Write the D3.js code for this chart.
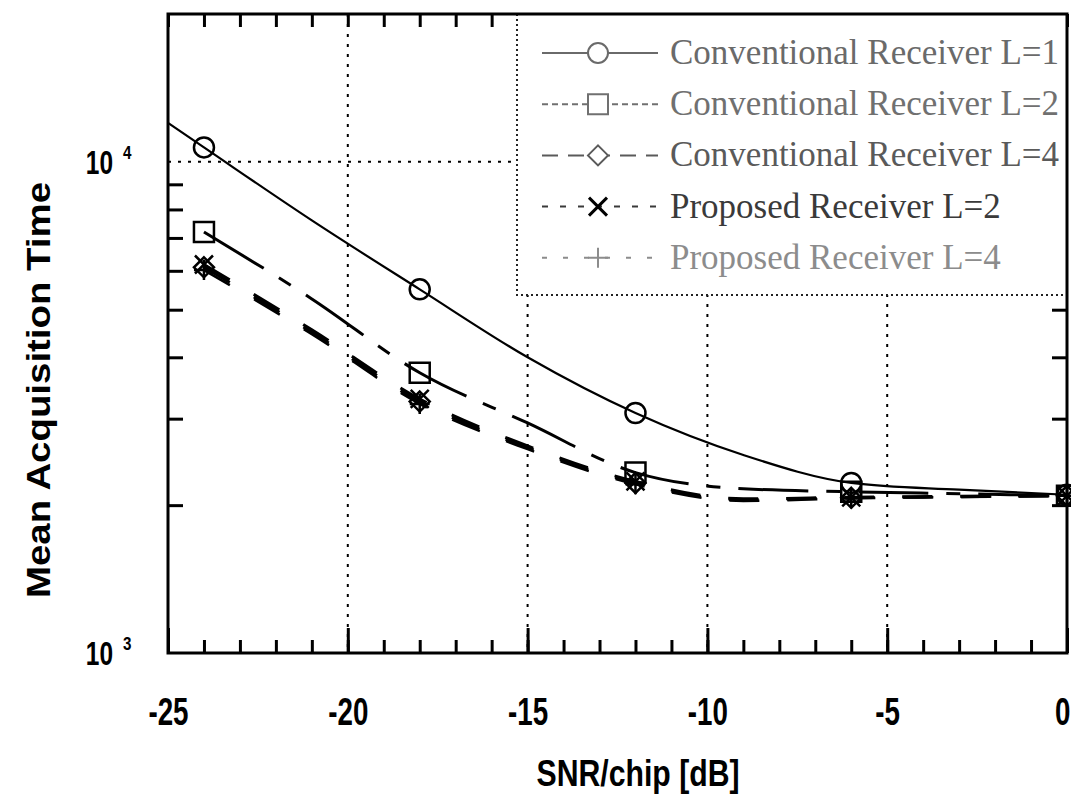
<!DOCTYPE html>
<html>
<head>
<meta charset="utf-8">
<script src="https://cdn.jsdelivr.net/npm/d3@7"></script>
<style>
  body { margin: 0; background: #fff; }
  svg { display: block; }
</style>
</head>
<body>
<div id="chart"></div>
<script>
// === DATA ===
const snr = [-25, -24, -21, -18, -15, -12, -9, -6, -3, 0];
const markerSnr = [-24, -18, -12, -6, 0];

const convL1 = [12000, 10700, 7600, 5500, 4000, 3080, 2530, 2220, 2150, 2100];
const convL2 = [null, 7200, 5260, 3720, 2940, 2330, 2160, 2130, 2110, 2090];
const convL4 = [null, 6100, 4500, 3250, 2620, 2220, 2050, 2070, 2080, 2090];
const propL2 = [null, 6180, 4550, 3290, 2640, 2235, 2060, 2075, 2085, 2090];
const propL4 = [null, 6020, 4460, 3215, 2600, 2205, 2040, 2065, 2078, 2090];

const seriesNames = [
  "Conventional Receiver L=1",
  "Conventional Receiver L=2",
  "Conventional Receiver L=4",
  "Proposed Receiver L=2",
  "Proposed Receiver L=4"
];

const xTicks = [-25, -20, -15, -10, -5, 0];
const xGrid = [-20, -15, -10, -5];
const yTicks = [1000, 10000];
const yTickExp = ["3", "4"];
const yMinor = [2000, 3000, 4000, 5000, 6000, 7000, 8000, 9000];

// === LAYOUT ===
const W = 1071, H = 797;
const margin = { top: 14, right: 4, bottom: 144, left: 168 };
const plotR = W - margin.right;
const plotB = H - margin.bottom;

const x = d3.scaleLinear().domain([-25, 0]).range([margin.left, plotR]);
const y = d3.scaleLog().domain([1000, 20000]).range([plotB, margin.top]);

const svg = d3.select("#chart").append("svg")
  .attr("width", W).attr("height", H)
  .style("background", "#fff");

const boldFont = "'Liberation Sans', Arial, sans-serif";
const serifFont = "'Liberation Serif', 'Times New Roman', serif";

// grid (dotted)
const grid = svg.append("g").attr("stroke", "#000").attr("stroke-width", 2)
  .attr("stroke-dasharray", "3,7");
grid.selectAll("line.vg").data(xGrid).join("line")
  .attr("x1", d => x(d)).attr("x2", d => x(d))
  .attr("y1", margin.top).attr("y2", plotB);
grid.selectAll("line.hg").data([10000]).join("line")
  .attr("x1", margin.left).attr("x2", plotR)
  .attr("y1", d => y(d)).attr("y2", d => y(d));

// === AXES ===
function styleTicks(g, w) {
  g.select(".domain").remove();
  g.selectAll(".tick line").attr("stroke", "#000").attr("stroke-width", w);
}

// minor ticks every 1 dB, bottom & top
svg.append("g").attr("transform", `translate(0,${plotB})`)
  .call(d3.axisBottom(x).tickValues(d3.range(-25, 1)).tickSize(-13).tickFormat(""))
  .call(g => styleTicks(g, 3));
svg.append("g").attr("transform", `translate(0,${margin.top})`)
  .call(d3.axisTop(x).tickValues(d3.range(-25, 1)).tickSize(-13).tickFormat(""))
  .call(g => styleTicks(g, 3));

// major ticks with labels
svg.append("g").attr("transform", `translate(0,${plotB})`)
  .call(d3.axisBottom(x).tickValues(xTicks).tickSize(-25).tickPadding(45)
    .tickFormat(d => String(d)))
  .call(g => styleTicks(g, 3))
  .call(g => g.selectAll(".tick text")
    .attr("fill", "#000")
    .attr("font-family", boldFont)
    .attr("font-weight", "bold")
    .attr("font-size", 38)
    .attr("transform", "scale(0.73,1)")
    // last label sits against the right edge, as in the original
    .attr("text-anchor", d => d === 0 ? "end" : "middle")
    .attr("x", d => d === 0 ? 4 : 0));

// y minor ticks left & right
svg.append("g").attr("transform", `translate(${margin.left},0)`)
  .call(d3.axisLeft(y).tickValues(yMinor).tickSize(-15).tickFormat(""))
  .call(g => styleTicks(g, 3));
svg.append("g").attr("transform", `translate(${plotR},0)`)
  .call(d3.axisRight(y).tickValues(yMinor).tickSize(-15).tickFormat(""))
  .call(g => styleTicks(g, 3));

// y labels 10^3, 10^4
const yLab = svg.append("g").attr("fill", "#000")
  .attr("font-family", boldFont).attr("font-weight", "bold");
yTicks.forEach((t, i) => {
  const yy = y(t);
  yLab.append("text")
    .attr("transform", `translate(113,${yy + 12}) scale(0.72,1)`)
    .attr("text-anchor", "end")
    .attr("font-size", 34)
    .text("10");
  yLab.append("text")
    .attr("transform", `translate(123,${yy - 3}) scale(0.8,1)`)
    .attr("font-size", 19)
    .text(yTickExp[i]);
});

// axis titles
svg.append("text")
  .attr("transform", `translate(50,390) rotate(-90)`)
  .attr("text-anchor", "middle")
  .attr("font-family", boldFont).attr("font-weight", "bold")
  .attr("font-size", 34)
  .attr("textLength", 416).attr("lengthAdjust", "spacingAndGlyphs")
  .text("Mean Acquisition Time");

svg.append("text")
  .attr("x", 638).attr("y", 786)
  .attr("text-anchor", "middle")
  .attr("font-family", boldFont).attr("font-weight", "bold")
  .attr("font-size", 36)
  .attr("textLength", 203).attr("lengthAdjust", "spacingAndGlyphs")
  .text("SNR/chip  [dB]");

// === SERIES ===
const allValues = [convL1, convL2, convL4, propL2, propL4];
const styles = [
  { dash: null, width: 2.2, marker: "circle", color: "#000" },
  { dash: "70,18,14,18", width: 3, marker: "square", color: "#000" },
  { dash: "30,28", width: 3, marker: "diamond", color: "#000" },
  { dash: "30,28", width: 3, marker: "x", color: "#000" },
  { dash: "30,28", width: 2.5, marker: "plus", color: "#000" }
];

function markerPath(type, s) {
  switch (type) {
    case "circle":
      return `M${s},0A${s},${s} 0 1,1 ${-s},0A${s},${s} 0 1,1 ${s},0Z`;
    case "square":
      return `M${-s},${-s}H${s}V${s}H${-s}Z`;
    case "diamond":
      return `M0,${-s}L${s},0L0,${s}L${-s},0Z`;
    case "x":
      return `M${-s},${-s}L${s},${s}M${s},${-s}L${-s},${s}`;
    case "plus":
      return `M${-s},0H${s}M0,${-s}V${s}`;
  }
}
const markerSize = { circle: 10, square: 10, diamond: 10, x: 9, plus: 10 };

const line = d3.line()
  .defined(d => d.v != null)
  .x(d => x(d.snr))
  .y(d => y(d.v))
  .curve(d3.curveMonotoneX);

const plotG = svg.append("g");
allValues.forEach((vals, i) => {
  const st = styles[i];
  const pts = snr.map((s, k) => ({ snr: s, v: vals[k] }));
  plotG.append("path")
    .datum(pts)
    .attr("d", line)
    .attr("fill", "none")
    .attr("stroke", st.color)
    .attr("stroke-width", st.width)
    .attr("stroke-dasharray", st.dash);
  const mk = pts.filter(p => markerSnr.includes(p.snr) && p.v != null);
  plotG.selectAll(null).data(mk).join("path")
    .attr("transform", p => `translate(${x(p.snr)},${y(p.v)})`)
    .attr("d", markerPath(st.marker, markerSize[st.marker]))
    .attr("fill", "none")
    .attr("stroke", st.color)
    .attr("stroke-width", 2.5);
});

// === LEGEND ===
const lg = { x0: 517, y0: margin.top, x1: plotR, y1: 295 };
svg.append("rect")
  .attr("x", lg.x0).attr("y", lg.y0)
  .attr("width", lg.x1 - lg.x0).attr("height", lg.y1 - lg.y0)
  .attr("fill", "#fff");
svg.append("path")
  .attr("d", `M${lg.x0},${lg.y0}V${lg.y1}H${lg.x1}`)
  .attr("fill", "none").attr("stroke", "#222").attr("stroke-width", 2)
  .attr("stroke-dasharray", "2,3");

const legendText = ["#6a6a6a", "#707070", "#5a5a5a", "#3a3a3a", "#8c8c8c"];
const legendDash = [null, "6,4", "16,10", "6,12", "5,16"];
seriesNames.forEach((name, i) => {
  const cy = 53 + i * 51.2;
  const g = svg.append("g");
  g.append("line")
    .attr("x1", 542).attr("x2", 658).attr("y1", cy).attr("y2", cy)
    .attr("stroke", legendText[i]).attr("stroke-width", 2)
    .attr("stroke-dasharray", legendDash[i]);
  g.append("path")
    .attr("transform", `translate(598,${cy})`)
    .attr("d", markerPath(styles[i].marker, markerSize[styles[i].marker]))
    .attr("fill", "#fff")
    .attr("stroke", i === 3 ? "#000" : legendText[i])
    .attr("stroke-width", i === 3 ? 3 : 2);
  g.append("text")
    .attr("x", 670).attr("y", cy + 11)
    .attr("font-family", serifFont)
    .attr("font-size", 35)
    .attr("fill", legendText[i])
    .text(name);
});

// plot frame on top
svg.append("rect")
  .attr("x", margin.left).attr("y", margin.top)
  .attr("width", plotR - margin.left).attr("height", plotB - margin.top)
  .attr("fill", "none").attr("stroke", "#000").attr("stroke-width", 3);
</script>
</body>
</html>
